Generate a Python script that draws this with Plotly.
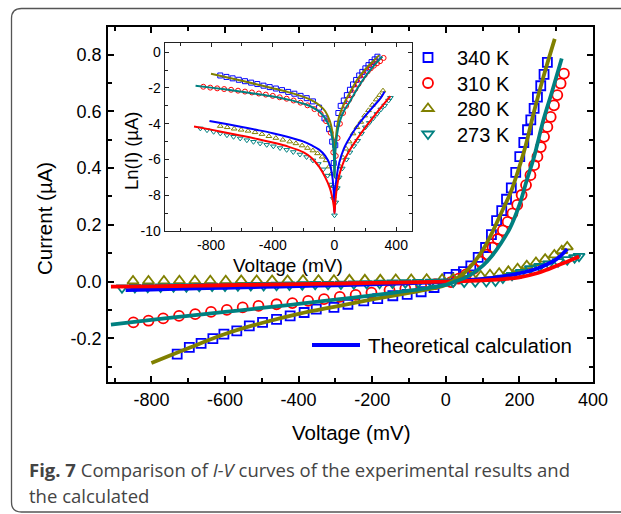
import plotly.graph_objects as go

# ---------------- main plot data (Current in uA vs Voltage in mV) ----------------
v340 = [-730,-697,-665,-633,-603,-568,-534,-498,-460,-423,-385,-352,-304,-266,-223,-185,-144,-105,-67,-32,
        8,28,48,68,88,108,124,138,152,165,178,190,201,212,222,231,240,249,258,267,276]
i340 = [-0.256,-0.232,-0.218,-0.201,-0.185,-0.174,-0.156,-0.144,-0.133,-0.121,-0.109,-0.097,-0.091,-0.080,-0.068,-0.060,-0.050,-0.045,-0.036,-0.021,
        0.015,0.025,0.035,0.055,0.085,0.120,0.165,0.215,0.250,0.290,0.330,0.385,0.440,0.490,0.535,0.570,0.610,0.650,0.690,0.730,0.772]

v310 = [-849,-808,-768,-725,-681,-638,-595,-552,-509,-460,-417,-374,-331,-288,-245,-202,-153,-110,-67,-29,
        14,35,55,75,95,112,127,141,155,168,181,194,206,218,230,240,249,258,267,276,285,294,303,312,321]
i310 = [-0.144,-0.138,-0.130,-0.121,-0.115,-0.107,-0.100,-0.091,-0.086,-0.080,-0.076,-0.068,-0.062,-0.054,-0.047,-0.039,-0.030,-0.025,-0.015,-0.009,
        -0.002,0.010,0.025,0.045,0.070,0.095,0.120,0.150,0.180,0.210,0.240,0.270,0.305,0.340,0.375,0.410,0.440,0.474,0.510,0.545,0.580,0.621,0.657,0.698,0.733]

v280 = [-850,-808,-766,-724,-682,-640,-598,-556,-514,-472,-430,-388,-346,-304,-262,-220,-178,-136,-94,-52,-10,
        20,45,70,95,120,145,170,195,220,245,270,295,315,330]
i280 = [0.002,0.002,0.002,0.003,0.003,0.003,0.003,0.004,0.004,0.004,0.004,0.005,0.005,0.005,0.006,0.006,0.006,0.007,0.007,0.008,0.008,
        0.010,0.013,0.016,0.020,0.024,0.029,0.036,0.045,0.056,0.067,0.079,0.094,0.109,0.122]

v273 = [-880,-845,-810,-775,-740,-705,-670,-635,-600,-565,-530,-495,-460,-425,-390,-355,-320,-285,-250,-215,-180,-145,-110,-75,-40,-10,
        20,50,80,110,135,155,180,205,230,255,280,305,330,350,362]
i273 = [-0.022,-0.021,-0.020,-0.019,-0.018,-0.018,-0.017,-0.016,-0.016,-0.015,-0.014,-0.014,-0.013,-0.012,-0.011,-0.010,-0.010,-0.009,-0.008,-0.007,-0.006,-0.005,-0.004,-0.003,-0.002,-0.001,
        -0.002,-0.002,-0.001,0.000,0.002,0.012,0.022,0.032,0.045,0.053,0.062,0.070,0.077,0.084,0.089]

# theoretical calculation curves (main)
fit340_v = [-800,-700,-600,-500,-400,-300,-200,-100,-50,0,25,50,75,100,125,150,175,188,215,240,265,296]
fit340_i = [-0.287,-0.235,-0.185,-0.146,-0.114,-0.088,-0.063,-0.040,-0.028,-0.012,0.008,0.030,0.065,0.110,0.170,0.240,0.310,0.357,0.470,0.600,0.720,0.855]
fit310_v = [-910,-800,-700,-600,-500,-400,-300,-200,-100,0,25,50,75,100,125,150,175,200,220,240,265,290,315]
fit310_i = [-0.152,-0.135,-0.121,-0.107,-0.093,-0.079,-0.064,-0.049,-0.032,-0.012,0.000,0.012,0.030,0.055,0.090,0.135,0.190,0.270,0.357,0.440,0.568,0.675,0.786]
fit280_v = [-870,-800,-700,-600,-500,-400,-300,-200,-100,0,50,100,150,200,250,300,330]
fit280_i = [-0.030,-0.028,-0.025,-0.022,-0.019,-0.016,-0.013,-0.010,-0.006,-0.001,0.004,0.009,0.017,0.029,0.047,0.078,0.115]
fit273_v = [-910,-800,-700,-600,-500,-400,-300,-200,-100,0,50,100,150,200,250,275,300,330,362]
fit273_i = [-0.018,-0.017,-0.015,-0.013,-0.011,-0.009,-0.007,-0.005,-0.003,0.000,0.002,0.004,0.008,0.015,0.030,0.042,0.055,0.070,0.088]

# ---------------- inset data (Ln(I) vs Voltage) ----------------
lv340 = [-740,-700,-660,-620,-580,-540,-500,-460,-420,-380,-340,-300,-260,-220,-180,-140,-100,-65,-35,-15,-5,
         5,15,25,40,60,80,100,120,140,160,180,200,220,240,260,278]
ln340 = [-1.30,-1.38,-1.46,-1.54,-1.62,-1.70,-1.78,-1.87,-1.95,-2.03,-2.12,-2.22,-2.32,-2.44,-2.57,-2.75,-3.10,-3.70,-4.30,-5.00,-6.20,
         -5.20,-4.00,-3.40,-3.00,-2.70,-2.40,-2.10,-1.80,-1.55,-1.30,-1.10,-0.90,-0.72,-0.55,-0.40,-0.25]
lv310 = [-850,-805,-760,-715,-670,-625,-580,-535,-490,-445,-400,-355,-310,-265,-220,-175,-130,-90,-55,-25,-8,
         8,20,35,55,75,95,115,135,155,175,195,215,235,255,275,295,318]
ln310 = [-1.93,-1.98,-2.02,-2.06,-2.10,-2.15,-2.20,-2.25,-2.31,-2.37,-2.44,-2.52,-2.60,-2.70,-2.82,-2.97,-3.18,-3.45,-3.85,-4.50,-5.60,
         -5.80,-4.80,-4.00,-3.40,-3.00,-2.65,-2.35,-2.05,-1.78,-1.52,-1.28,-1.07,-0.90,-0.75,-0.62,-0.50,-0.32]
lv280 = [-740,-695,-650,-605,-560,-515,-470,-425,-380,-335,-290,-250,-210,-175,-140,-110,-80,-55,-35,-20,-10,
         10,22,35,55,75,95,120,145,170,195,220,245,270,292,314]
ln280 = [-4.13,-4.20,-4.28,-4.34,-4.40,-4.48,-4.58,-4.70,-4.80,-4.90,-5.00,-5.10,-5.22,-5.36,-5.50,-5.66,-5.85,-6.05,-6.40,-6.80,-7.50,
         -7.60,-7.00,-6.40,-5.90,-5.40,-5.00,-4.55,-4.20,-3.90,-3.55,-3.25,-2.95,-2.65,-2.40,-2.15]
lv273 = [-869,-826,-783,-740,-697,-654,-611,-568,-525,-482,-439,-396,-353,-310,-267,-224,-181,-140,-105,-73,-45,-22,-8,0,
         8,18,30,50,77,100,125,150,175,200,225,250,275,300,325,350,362]
ln273 = [-4.26,-4.36,-4.45,-4.54,-4.64,-4.73,-4.82,-4.92,-5.01,-5.10,-5.18,-5.26,-5.36,-5.46,-5.58,-5.72,-5.86,-6.05,-6.25,-6.55,-6.90,-7.40,-8.20,-9.12,
         -8.40,-7.60,-7.00,-6.50,-6.00,-5.60,-5.25,-4.95,-4.55,-4.20,-3.95,-3.70,-3.45,-3.20,-2.98,-2.70,-2.55]

lfit340_v = [-800,-700,-600,-500,-400,-300,-200,-150,-100,-60,-30,-15,-5,0,5,15,30,60,100,150,200,250,290]
lfit340_l = [-1.20,-1.40,-1.60,-1.80,-2.01,-2.23,-2.50,-2.68,-2.95,-3.30,-3.85,-4.40,-5.30,-7.00,-5.30,-4.30,-3.60,-2.90,-2.25,-1.50,-0.95,-0.50,-0.16]
lfit310_v = [-900,-800,-700,-600,-500,-400,-300,-200,-150,-100,-60,-30,-15,-5,0,5,15,30,60,100,150,200,250,310]
lfit310_l = [-1.87,-1.98,-2.09,-2.21,-2.34,-2.48,-2.65,-2.88,-3.05,-3.32,-3.70,-4.25,-4.80,-5.60,-7.00,-5.60,-4.70,-4.00,-3.30,-2.75,-2.00,-1.35,-0.80,-0.24]
lfit280_v = [-810,-700,-600,-500,-400,-300,-200,-150,-100,-60,-30,-15,-5,0,5,15,30,60,100,150,200,250,300,325]
lfit280_l = [-3.85,-4.02,-4.18,-4.35,-4.53,-4.74,-5.00,-5.20,-5.45,-5.80,-6.30,-6.90,-7.80,-9.00,-7.80,-6.90,-6.20,-5.40,-4.75,-4.10,-3.55,-3.05,-2.55,-2.20]
lfit273_v = [-910,-800,-700,-600,-500,-400,-300,-200,-150,-100,-60,-30,-15,-5,0,5,15,30,60,100,150,200,250,300,362]
lfit273_l = [-4.15,-4.33,-4.50,-4.67,-4.85,-5.05,-5.28,-5.60,-5.90,-6.40,-7.00,-7.60,-8.10,-8.60,-9.00,-8.40,-7.60,-6.90,-6.10,-5.45,-4.80,-4.20,-3.65,-3.10,-2.45]

# tick labels (hyphen minus as in the original)
x_ticks = [-800, -600, -400, -200, 0, 200, 400]
x_ticktext = ["-800", "-600", "-400", "-200", "0", "200", "400"]
y_ticks = [-0.2, 0.0, 0.2, 0.4, 0.6, 0.8]
y_ticktext = ["-0.2", "0.0", "0.2", "0.4", "0.6", "0.8"]
ix_ticks = [-800, -400, 0, 400]
ix_ticktext = ["-800", "-400", "0", "400"]
iy_ticks = [-10, -8, -6, -4, -2, 0]
iy_ticktext = ["-10", "-8", "-6", "-4", "-2", "0"]

names = ["340 K", "310 K", "280 K", "273 K"]
BLUE, RED, OLIVE, TEAL = "#0000FF", "#FF0000", "#808000", "#008080"
FONT = "Arial, 'Liberation Sans', sans-serif"

# layout helpers: pixel -> paper (plot area x 108..593, y 27..382)
def px(x):
    return (x - 108) / 485
def py(y):
    return (382 - y) / 355

fig = go.Figure()

legend_ids = ["legend", "legend2", "legend3", "legend4"]
for v, i, nm, col, sym, sz, lg in [
    (v340, i340, names[0], BLUE, "square-open", 9, legend_ids[0]),
    (v310, i310, names[1], RED, "circle-open", 10, legend_ids[1]),
    (v280, i280, names[2], OLIVE, "triangle-up-open", 10, legend_ids[2]),
    (v273, i273, names[3], TEAL, "triangle-down-open", 10, legend_ids[3]),
]:
    fig.add_trace(go.Scatter(x=v, y=i, mode="markers", name=nm, legend=lg,
                             marker=dict(symbol=sym, size=sz, color=col, line=dict(width=1.8, color=col))))

for v, i, col in [(fit280_v, fit280_i, BLUE), (fit273_v, fit273_i, RED),
                  (fit340_v, fit340_i, OLIVE), (fit310_v, fit310_i, TEAL)]:
    fig.add_trace(go.Scatter(x=v, y=i, mode="lines", showlegend=False,
                             line=dict(color=col, width=3.8, shape="spline")))

for v, l, col, sym in [(lv340, ln340, BLUE, "square-open"), (lv310, ln310, RED, "circle-open"),
                       (lv280, ln280, OLIVE, "triangle-up-open"), (lv273, ln273, TEAL, "triangle-down-open")]:
    fig.add_trace(go.Scatter(x=v, y=l, mode="markers", showlegend=False, xaxis="x2", yaxis="y2",
                             marker=dict(symbol=sym, size=5, color=col, line=dict(width=1, color=col))))
for v, l, col in [(lfit340_v, lfit340_l, OLIVE), (lfit310_v, lfit310_l, TEAL),
                  (lfit280_v, lfit280_l, BLUE), (lfit273_v, lfit273_l, RED)]:
    fig.add_trace(go.Scatter(x=v, y=l, mode="lines", showlegend=False, xaxis="x2", yaxis="y2",
                             line=dict(color=col, width=2, shape="spline")))

main_ax = dict(showline=True, linewidth=1.8, linecolor="black", mirror="ticks", ticks="inside",
               tickwidth=1.5, tickcolor="black", ticklen=6, showgrid=False, zeroline=False,
               tickmode="array", tickfont=dict(family=FONT, size=18, color="black"))
ins_ax = dict(showline=True, linewidth=1.2, linecolor="#222", mirror="ticks", ticks="inside",
              tickwidth=1, tickcolor="#222", ticklen=4, showgrid=False, zeroline=False,
              tickmode="array", tickfont=dict(family=FONT, size=14, color="black"))

legend_rows = [57.5, 83, 108.5, 134]
legend_common = dict(x=px(399), xanchor="left", yanchor="top", bgcolor="rgba(0,0,0,0)",
                     itemwidth=48, font=dict(family=FONT, size=20, color="black"))

fig.update_layout(
    width=621, height=514,
    margin=dict(l=108, r=28, t=27, b=132),
    paper_bgcolor="white", plot_bgcolor="white",
    font=dict(family=FONT, color="black"),
    xaxis=dict(main_ax, range=[-918, 400], tickvals=x_ticks, ticktext=x_ticktext, ticklabelstandoff=0,
               minor=dict(ticks="inside", tickvals=[-900, -700, -500, -300, -100, 100, 300],
                          ticklen=4, tickwidth=1.5, tickcolor="black")),
    yaxis=dict(main_ax, range=[-0.354, 0.897], tickvals=y_ticks, ticktext=y_ticktext, ticklabelstandoff=1,
               minor=dict(ticks="inside", tickvals=[-0.3, -0.1, 0.1, 0.3, 0.5, 0.7],
                          ticklen=4, tickwidth=1.5, tickcolor="black")),
    xaxis2=dict(ins_ax, domain=[px(164.7), px(411.7)], anchor="y2", range=[-1100, 500],
                tickvals=ix_ticks, ticktext=ix_ticktext, ticklabelstandoff=1,
                minor=dict(ticks="inside", tickvals=[-1000, -600, -200, 200], ticklen=3, tickwidth=1,
                           tickcolor="#222")),
    yaxis2=dict(ins_ax, domain=[py(231), py(43.3)], anchor="x2", range=[-10, 0.5],
                tickvals=iy_ticks, ticktext=iy_ticktext, ticklabelstandoff=0,
                minor=dict(ticks="inside", tickvals=[-9, -7, -5, -3, -1], ticklen=3, tickwidth=1,
                           tickcolor="#222")),
    legend=dict(legend_common, y=py(legend_rows[0] - 19.5)),
    legend2=dict(legend_common, y=py(legend_rows[1] - 19.5)),
    legend3=dict(legend_common, y=py(legend_rows[2] - 19.5)),
    legend4=dict(legend_common, y=py(legend_rows[3] - 19.5)),
)

def label(text, x, y, size, angle=0, xanchor="center", color="black", family=FONT):
    fig.add_annotation(text=text, xref="paper", yref="paper", x=px(x), y=py(y), textangle=angle,
                       xanchor=xanchor, yanchor="middle", showarrow=False,
                       font=dict(family=family, size=size, color=color))

# axis titles
label("Voltage (mV)", 351, 432, 20.5)
label("Current (µA)", 45, 218, 20.5, angle=-90)
label("Voltage (mV)", 288, 265, 19)
label("Ln(I) (µA)", 131, 151, 18.5, angle=-90)

# theoretical calculation key
fig.add_shape(type="line", xref="paper", yref="paper", x0=px(312), x1=px(360),
              y0=py(345), y1=py(345), line=dict(color=BLUE, width=3.8))
label("Theoretical calculation", 366, 345, 20.5, xanchor="left")

# caption
CAP = "'Open Sans', Lato, sans-serif"
label("<b>Fig. 7</b> Comparison of <i>I-V</i> curves of the experimental results and", 27, 469, 18.5,
      xanchor="left", color="#444", family=CAP)
label("the calculated", 27, 495, 18.5, xanchor="left", color="#444", family=CAP)

# card border (rounded corners on the left)
L, T, R, B, r = 11.5, 8.5, 660, 512, 10
path = (f"M {px(R)},{py(T)} L {px(L + r)},{py(T)} Q {px(L)},{py(T)} {px(L)},{py(T + r)} "
        f"L {px(L)},{py(B - r)} Q {px(L)},{py(B)} {px(L + r)},{py(B)} L {px(R)},{py(B)}")
fig.add_shape(type="path", xref="paper", yref="paper", path=path, line=dict(color="#555", width=1.3))

fig.write_html("out.html", post_script="document.body.style.margin='0';",
               config={"displayModeBar": False})
